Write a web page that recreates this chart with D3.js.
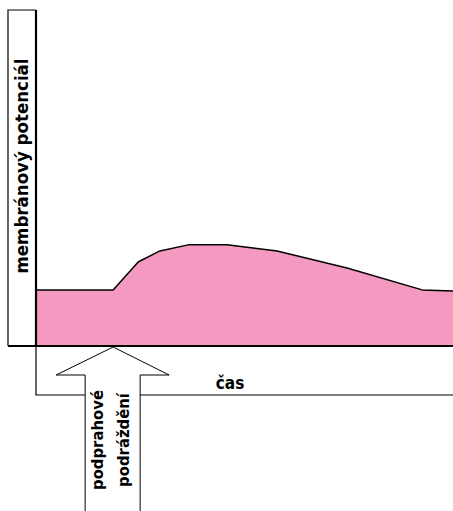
<!DOCTYPE html>
<html><head><meta charset="utf-8">
<script src="https://cdn.jsdelivr.net/npm/d3@7"></script>
<style>body{margin:0;background:#fff}svg{display:block}</style>
</head><body>
<svg id="c" width="453" height="511"></svg>
<script>
const timeVals = [0, 18.5, 24.5, 29.7, 36.5, 45.8, 57.8, 74.6, 92.6, 100];
const potentialVals = [16.7, 16.7, 25, 28.3, 30.1, 30.1, 28.3, 23.2, 16.7, 16.4];
const yLabel = "membránový potenciál";
const xLabel = "čas";
const stimulusLabel = ["podprahové", "podráždění"];
const stimulusTime = 18.5;

const svg = d3.select("#c");
const W = 453, H = 511;
const x = d3.scaleLinear().domain([0, 100]).range([36, 453]);
const y = d3.scaleLinear().domain([0, 100]).range([346, 10]);
const data = timeVals.map((t, i) => ({t, v: potentialVals[i]}));
const font = "'Liberation Sans Narrow','DejaVu Sans Condensed',sans-serif";

// area
svg.append("path").datum(data)
  .attr("d", d3.area().x(d => x(d.t)).y0(y(0)).y1(d => y(d.v)))
  .attr("fill", "#f49ac1");
svg.append("path").datum(data)
  .attr("d", d3.line().x(d => x(d.t)).y(d => y(d.v)))
  .attr("fill", "none").attr("stroke", "#000").attr("stroke-width", 1.5)
  .attr("stroke-linejoin", "round");

// y label box
svg.append("path").attr("d", `M${x(0)},${y(100)}H8V${y(0)}`)
  .attr("fill", "none").attr("stroke", "#000").attr("stroke-width", 1.2);
// x label box
svg.append("path").attr("d", `M${x(0)},${y(0)}V395H453`)
  .attr("fill", "none").attr("stroke", "#000").attr("stroke-width", 1.2);
// axes
svg.append("line").attr("x1", x(0)).attr("x2", x(0)).attr("y1", y(100)).attr("y2", y(0)+1)
  .attr("stroke", "#000").attr("stroke-width", 2.2);
svg.append("line").attr("x1", 8).attr("x2", W).attr("y1", y(0)).attr("y2", y(0))
  .attr("stroke", "#000").attr("stroke-width", 2.2);

// arrow
const ax = x(stimulusTime), tip = y(0) + 1;
svg.append("path")
  .attr("d", `M${ax},${tip}L${ax+56},${tip+28}H${ax+27}V${H+2}H${ax-28}V${tip+28}H${ax-57}Z`)
  .attr("fill", "#fff").attr("stroke", "#000").attr("stroke-width", 1);

// labels
svg.append("text").attr("transform", `translate(28,166) rotate(-90)`)
  .attr("text-anchor", "middle").attr("font-family", font).attr("font-weight", "bold")
  .attr("font-size", 18.5).text(yLabel);
svg.append("text").attr("x", 230).attr("y", 389)
  .attr("text-anchor", "middle").attr("font-family", font).attr("font-weight", "bold")
  .attr("font-size", 17).text(xLabel);
stimulusLabel.forEach((s, i) => {
  svg.append("text").attr("transform", `translate(${ax - 10 + i*26},440) rotate(-90)`)
    .attr("text-anchor", "middle").attr("font-family", font).attr("font-weight", "bold")
    .attr("font-size", 16.5).text(s);
});
</script>
</body></html>
